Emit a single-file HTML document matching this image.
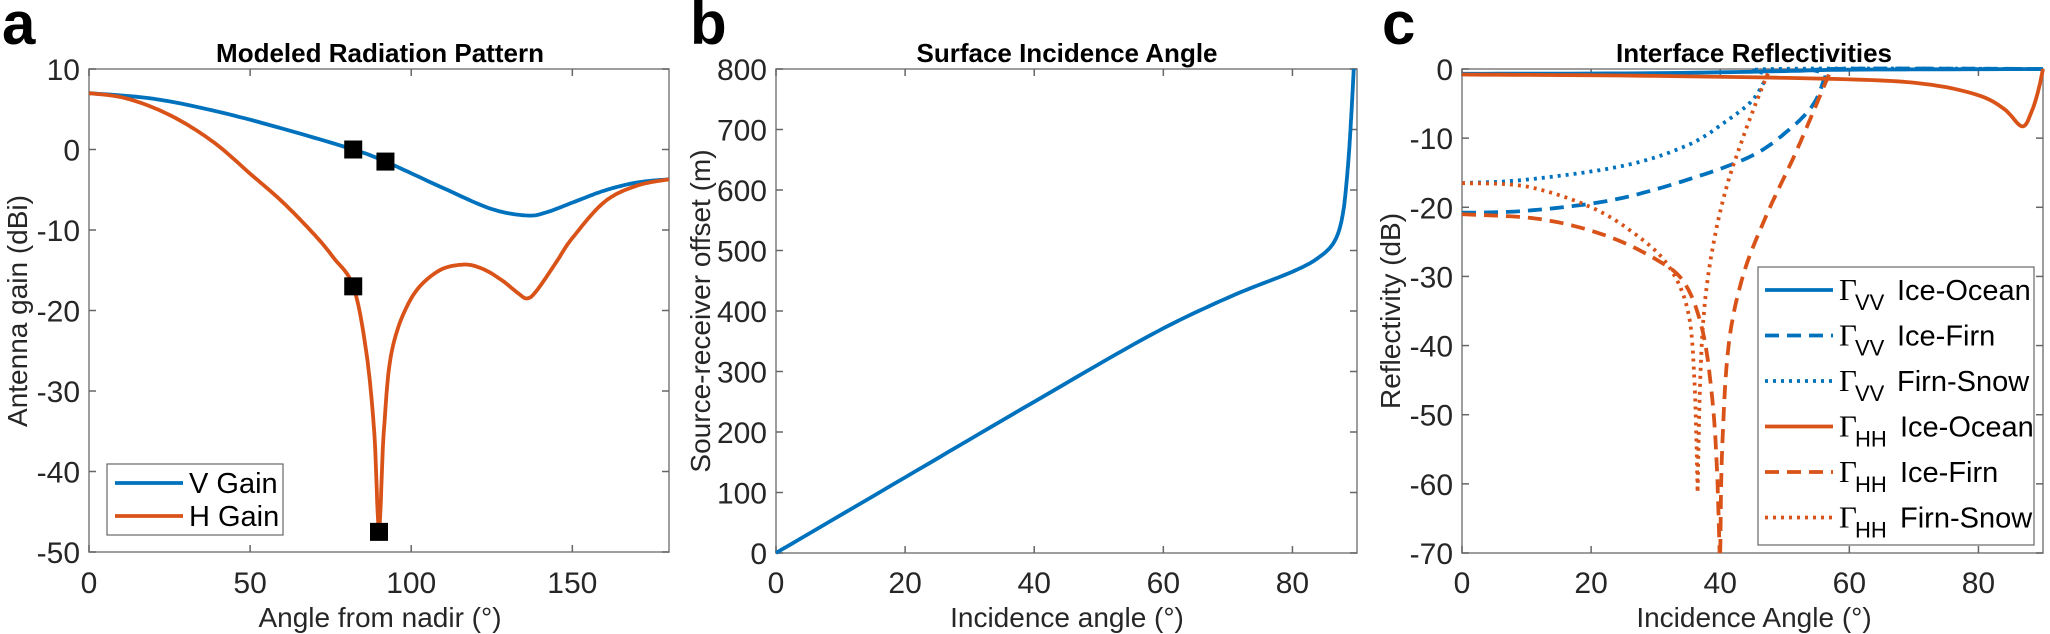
<!DOCTYPE html>
<html><head><meta charset="utf-8">
<style>
html,body{margin:0;padding:0;background:#fff;}
svg{display:block;font-family:"Liberation Sans",sans-serif;}
.t{font-size:30px;fill:#262626;}
.ti{font-size:26px;font-weight:bold;fill:#000;}
.lb{font-size:28px;fill:#262626;}
.pl{font-size:60px;font-weight:bold;fill:#000;}
.lg{font-size:29px;fill:#000;}
.g{font-family:"Liberation Serif",serif;font-size:31px;}
.sub{font-size:22px;}
</style></head><body>
<svg id="s" width="2050" height="634" viewBox="0 0 2050 634" xmlns="http://www.w3.org/2000/svg">
<g id="root"></g>
</svg>
<script>
const NS="http://www.w3.org/2000/svg";
const root=document.getElementById('root');
function el(tag,attrs,text){const e=document.createElementNS(NS,tag);for(const k in attrs)e.setAttribute(k,attrs[k]);if(text!==undefined)e.textContent=text;root.appendChild(e);return e;}
function cr(pts,n){
 const out=[];
 for(let i=0;i<pts.length-1;i++){
  const p0=pts[Math.max(i-1,0)],p1=pts[i],p2=pts[i+1],p3=pts[Math.min(i+2,pts.length-1)];
  for(let k=0;k<n;k++){const t=k/n,t2=t*t,t3=t2*t;
   const f=(a,b,c,d)=>0.5*((2*b)+(-a+c)*t+(2*a-5*b+4*c-d)*t2+(-a+3*b-3*c+d)*t3);
   out.push([f(p0[0],p1[0],p2[0],p3[0]),f(p0[1],p1[1],p2[1],p3[1])]);}
 }
 out.push(pts[pts.length-1]);return out;
}
function path(pts,mx,my,color,dash){
 const p=cr(pts,12).map((q,i)=>(i?'L':'M')+mx(q[0]).toFixed(1)+','+my(q[1]).toFixed(1)).join('');
 const a={d:p,fill:'none',stroke:color,'stroke-width':3.8,'stroke-linejoin':'round'};
 if(dash)a['stroke-dasharray']=dash;
 el('path',a);
}
const B='#0072BD',O='#D95319';
function axes(x0,x1,y0,y1,xt,yt,mx,my,xlab,ylab,title,letter,lx,tcx){
 el('rect',{x:x0,y:y0,width:x1-x0,height:y1-y0,fill:'#fff',stroke:'#262626','stroke-opacity':0.6,'stroke-width':1.5});
 xt.forEach(v=>{const x=mx(v);el('line',{x1:x,x2:x,y1:y1,y2:y1-7,stroke:'#666','stroke-width':1.5});el('line',{x1:x,x2:x,y1:y0,y2:y0+7,stroke:'#666','stroke-width':1.5});el('text',{x:x,y:593,'text-anchor':'middle',class:'t'},String(v));});
 yt.forEach(v=>{const y=my(v);el('line',{x1:x0,x2:x0+7,y1:y,y2:y,stroke:'#666','stroke-width':1.5});el('line',{x1:x1,x2:x1-7,y1:y,y2:y,stroke:'#666','stroke-width':1.5});el('text',{x:x0-9,y:y+11,'text-anchor':'end',class:'t'},String(v));});
 el('text',{x:tcx,y:627,'text-anchor':'middle',class:'lb'},xlab);
 el('text',{x:0,y:0,'text-anchor':'middle',class:'lb',transform:`translate(${lx},311) rotate(-90)`},ylab);
 el('text',{x:tcx,y:62,'text-anchor':'middle',class:'ti'},title);
}
{const x0=89,x1=669,y0=69,y1=552;const mx=v=>x0+v*(x1-x0)/180,my=v=>y0+(10-v)*(y1-y0)/60;
 axes(x0,x1,y0,y1,[0,50,100,150],[10,0,-10,-20,-30,-40,-50],mx,my,'Angle from nadir (°)','Antenna gain (dBi)','Modeled Radiation Pattern','a',27,380);
 path([[0,7],[20,6.3],[40,4.7],[60,2.6],[82,0],[92,-1.5],[110,-4.8],[125,-7.4],[136,-8.2],[142,-7.8],[150,-6.6],[160,-5.1],[170,-4.1],[180,-3.7]],mx,my,B);
 path([[0,7],[10,6.5],[20,5.2],[30,3.2],[40,0.5],[50,-3],[60,-6.5],[70,-10.6],[76,-13.5],[82,-17],[86,-25],[88.5,-35],[90,-47],[91.5,-35],[94,-25],[100,-18.5],[108,-15.2],[116,-14.3],[122,-14.8],[128,-16.2],[133,-17.8],[136,-18.5],[139,-17.5],[145,-14],[150,-11],[160,-6.5],[170,-4.5],[180,-3.7]],mx,my,O);
 [[82,0],[92,-1.5],[82,-17],[90,-47.5]].forEach(p=>el('rect',{x:mx(p[0])-9,y:my(p[1])-9,width:18,height:18,fill:'#000'}));
 el('rect',{x:107,y:464,width:176,height:71,fill:'#fff',stroke:'#262626','stroke-opacity':0.7,'stroke-width':1.2});
 el('line',{x1:115,x2:183,y1:483,y2:483,stroke:B,'stroke-width':3.8});
 el('line',{x1:115,x2:183,y1:516,y2:516,stroke:O,'stroke-width':3.8});
 el('text',{x:189,y:493,class:'lg'},'V Gain');el('text',{x:189,y:526,class:'lg'},'H Gain');
 el('text',{x:2,y:44,class:'pl'},'a');
}
{const x0=776,x1=1357,y0=69,y1=553;const mx=v=>x0+v*(x1-x0)/90,my=v=>y1-v*(y1-y0)/800;
 axes(x0,x1,y0,y1,[0,20,40,60,80],[0,100,200,300,400,500,600,700,800],mx,my,'Incidence angle (°)','Source-receiver offset (m)','Surface Incidence Angle','b',710,1067);
 path([[0,0],[20,125],[40,250],[58,360],[70,422],[80,465],[84,488],[86.5,515],[87.8,560],[88.6,640],[89.1,720],[89.5,800]],mx,my,B);
 el('text',{x:690,y:44,class:'pl'},'b');
}
{const x0=1462,x1=2043,y0=69,y1=553;const mx=v=>x0+v*(x1-x0)/90,my=v=>y0+(-v)*(y1-y0)/70;
 axes(x0,x1,y0,y1,[0,20,40,60,80],[0,-10,-20,-30,-40,-50,-60,-70],mx,my,'Incidence Angle (°)','Reflectivity (dB)','Interface Reflectivities','c',1400,1754);
 path([[0,-0.7],[30,-0.6],[50,-0.3],[60,-0.1],[90,0]],mx,my,B);
 path([[0,-20.8],[10,-20.5],[23,-19],[35,-16],[45,-12.5],[51,-8.5],[54.5,-5],[56.3,-1],[57,0],[90,0]],mx,my,B,'14,8');
 path([[0,-16.5],[10,-16],[25,-14],[35,-11],[41,-7.5],[45,-4.5],[47.3,-1],[48,0],[90,0]],mx,my,B,'3,5');
 path([[0,-0.8],[30,-1],[60,-1.5],[72,-2.2],[80,-3.8],[84,-5.8],[86.8,-8.3],[88.3,-6],[89.3,-3],[90,0]],mx,my,O);
 path([[0,-21],[12,-21.7],[22,-24],[30,-27.5],[34.5,-31],[37.3,-38],[38.8,-48],[39.5,-58],[39.9,-70]],mx,my,O,'14,8');
 path([[40,-70],[40.3,-55],[41.3,-40],[43.5,-30],[47,-21.5],[51.5,-12.5],[54.5,-6],[56.3,-2],[57,-0.5]],mx,my,O,'14,8');
 path([[0,-16.5],[10,-17],[20,-20],[27,-24],[32,-28.5],[35,-35],[36,-45],[36.5,-61]],mx,my,O,'3,5');
 path([[36.5,-61],[36.9,-45],[37.6,-34],[39,-25],[41,-17],[43.5,-10],[45.5,-5],[47,-1.5],[47.7,0]],mx,my,O,'3,5');
 el('rect',{x:1758,y:267,width:276,height:278,fill:'#fff',stroke:'#262626','stroke-opacity':0.7,'stroke-width':1.2});
 const items=[[B,null,'Ice-Ocean','VV'],[B,'14,8','Ice-Firn','VV'],[B,'3,5','Firn-Snow','VV'],[O,null,'Ice-Ocean','HH'],[O,'14,8','Ice-Firn','HH'],[O,'3,5','Firn-Snow','HH']];
 items.forEach((it,i)=>{const y=290+i*45.5;
  const a={x1:1765,x2:1833,y1:y,y2:y,stroke:it[0],'stroke-width':3.8};if(it[1])a['stroke-dasharray']=it[1];el('line',a);
  el('text',{x:1839,y:y+10,class:'g'},'Γ');
  el('text',{x:1855,y:y+20,class:'sub'},it[3]);
  el('text',{x:it[3]=='VV'?1897:1900,y:y+10,class:'lg'},it[2]);
 });
 el('text',{x:1382,y:44,class:'pl'},'c');
}
</script>
</body></html>
